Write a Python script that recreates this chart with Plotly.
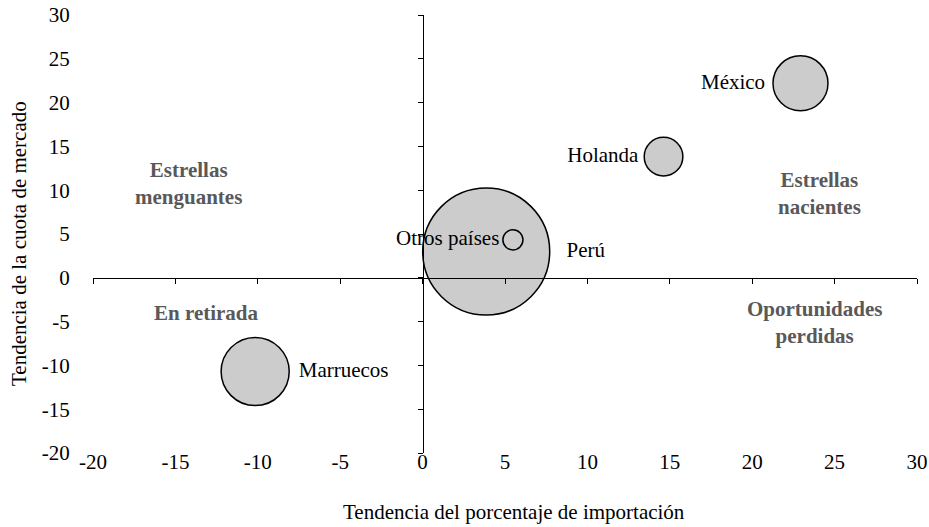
import plotly.graph_objects as go

# Datos de la matriz de tendencias
PAISES = ['Perú', 'Otros países', 'Holanda', 'México', 'Marruecos']
TEND_IMPORT = [3.86, 5.48, 14.62, 22.93, -10.16]   # eje x
TEND_CUOTA = [3.0, 4.33, 13.83, 22.2, -10.7]       # eje y
PESO = [40, 1.0, 3.7, 7.5, 11.5]                   # tamaño de burbuja (área)
POS_TEXTO = ['middle right', 'middle left', 'middle left', 'middle left', 'middle right']

TICKS = [-20, -15, -10, -5, 0, 5, 10, 15, 20, 25, 30]
TICK_TXT = [str(t) for t in TICKS]
RANGO = [-20, 30]

CUADRANTES = [
    ('Estrellas<br>menguantes', -14.2, 10.8),
    ('Estrellas<br>nacientes', 24.1, 9.6),
    ('En retirada', -13.1, -4.0),
    ('Oportunidades<br>perdidas', 23.8, -5.1),
]

FONT = '"Liberation Serif", "Times New Roman", serif'
FS = 21
MAX_DIAM = 127

fig = go.Figure()
fig.add_trace(go.Scatter(
    x=TEND_IMPORT, y=TEND_CUOTA, mode='markers+text',
    text=PAISES, textposition=POS_TEXTO,
    textfont=dict(family=FONT, size=FS, color='black'),
    marker=dict(size=PESO, sizemode='area', sizeref=2 * max(PESO) / MAX_DIAM ** 2,
                color='#cccccc', opacity=1, line=dict(color='black', width=1.5)),
    showlegend=False, cliponaxis=False,
))
# ejes que cruzan en el origen
fig.add_trace(go.Scatter(x=[None], y=[None], xaxis='x2', yaxis='y2', showlegend=False, hoverinfo='skip'))

pos0 = (0 - RANGO[0]) / (RANGO[1] - RANGO[0])

fig.update_layout(
    width=929, height=527,
    margin=dict(l=93, r=12, t=15, b=74),
    paper_bgcolor='white', plot_bgcolor='white',
    font=dict(family=FONT, size=FS, color='black'),
    xaxis=dict(range=RANGO, tickvals=TICKS, ticktext=TICK_TXT, showgrid=False, zeroline=False,
               showline=False, automargin=False, ticklabeloverflow='allow',
               ticks='', ticklabelstandoff=-6),
    yaxis=dict(range=RANGO, tickvals=TICKS, ticktext=TICK_TXT, showgrid=False, zeroline=False,
               showline=False, automargin=False, ticklabeloverflow='allow',
               ticks='outside', ticklen=18, tickcolor='rgba(0,0,0,0)'),
    xaxis2=dict(range=RANGO, tickvals=TICKS, overlaying='x', anchor='free', position=pos0,
                showline=True, linecolor='black', linewidth=1, ticks='outside', ticklen=5,
                tickcolor='black', showticklabels=False, showgrid=False, zeroline=False,
                automargin=False),
    yaxis2=dict(range=RANGO, tickvals=TICKS, overlaying='y', anchor='free', position=pos0,
                showline=True, linecolor='black', linewidth=1, ticks='outside', ticklen=5,
                tickcolor='black', showticklabels=False, showgrid=False, zeroline=False,
                automargin=False),
)

for txt, x, y in CUADRANTES:
    fig.add_annotation(x=x, y=y, text=f'<b>{txt}</b>', showarrow=False,
                       font=dict(family=FONT, size=FS, color='#595959'))

# títulos de ejes
fig.add_annotation(xref='paper', yref='paper', x=0.511, y=-0.135, xanchor='center', yanchor='middle',
                   text='Tendencia del porcentaje de importación', showarrow=False)
fig.add_annotation(xref='paper', yref='paper', x=-0.09, y=0.479, xanchor='center', yanchor='middle',
                   textangle=-90, text='Tendencia de la cuota de mercado', showarrow=False)

fig.write_html('out.html', config={'displayModeBar': False},
               post_script="document.body.style.margin='0';")
